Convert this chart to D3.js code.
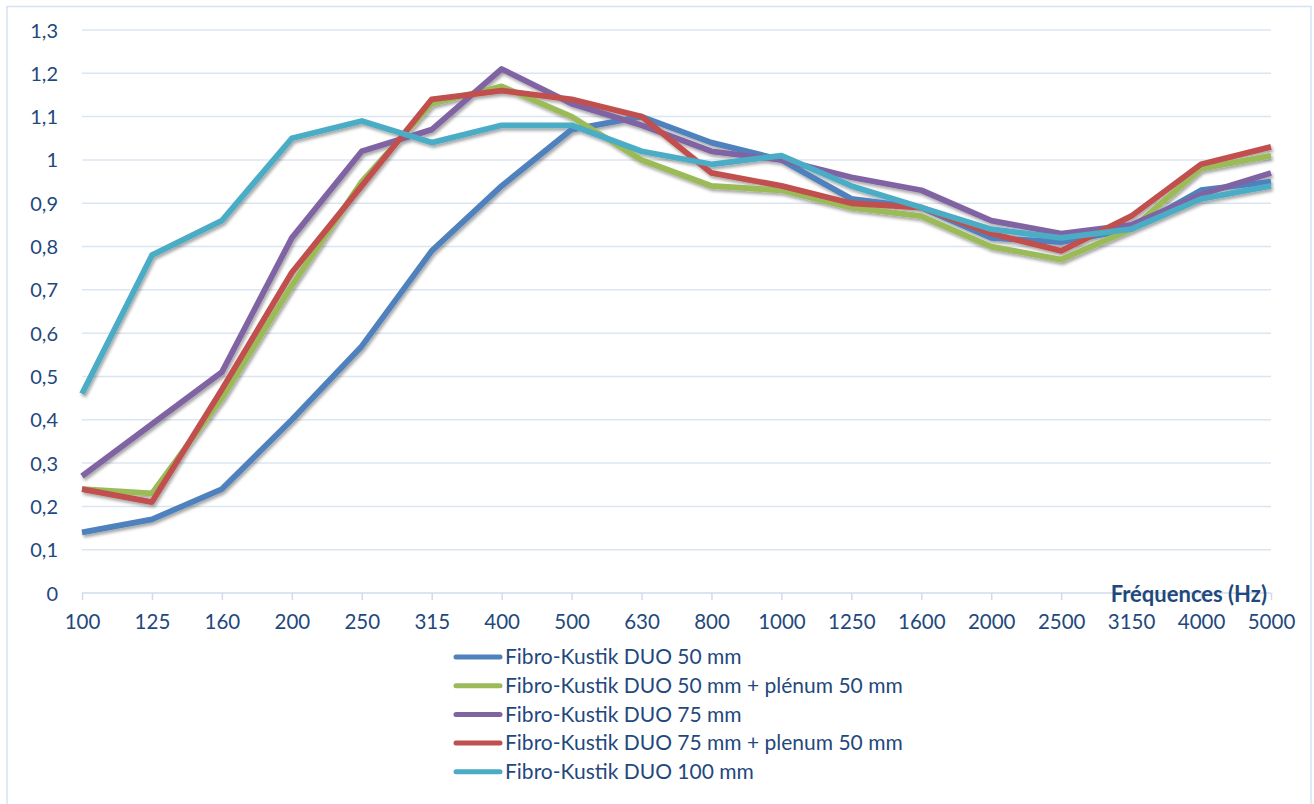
<!DOCTYPE html>
<html><head><meta charset="utf-8">
<script src="https://cdn.jsdelivr.net/npm/d3@7"></script>
<style>
html,body{margin:0;padding:0;background:#fff;}
svg{display:block;}
text{font-family:Lato,"Open Sans",sans-serif;}
</style></head>
<body><svg id="c" width="1314" height="804"></svg>
<script>
const categories = ["100","125","160","200","250","315","400","500","630","800","1000","1250","1600","2000","2500","3150","4000","5000"];
const seriesNames = ["Fibro-Kustik DUO 50 mm","Fibro-Kustik DUO 50 mm + plénum 50 mm","Fibro-Kustik DUO 75 mm","Fibro-Kustik DUO 75 mm + plenum 50 mm","Fibro-Kustik DUO 100 mm"];
const seriesColors = ["#4f81bd","#9bbb59","#8064a2","#c0504d","#4bacc6"];
const duo50      = [0.14,0.17,0.24,0.40,0.57,0.79,0.94,1.07,1.10,1.04,1.00,0.91,0.89,0.82,0.81,0.84,0.93,0.95];
const duo50pl    = [0.24,0.23,0.45,0.71,0.95,1.13,1.17,1.10,1.00,0.94,0.93,0.89,0.87,0.80,0.77,0.84,0.98,1.01];
const duo75      = [0.27,0.39,0.51,0.82,1.02,1.07,1.21,1.13,1.08,1.02,1.00,0.96,0.93,0.86,0.83,0.85,0.92,0.97];
const duo75pl    = [0.24,0.21,0.47,0.74,0.94,1.14,1.16,1.14,1.10,0.97,0.94,0.90,0.89,0.83,0.79,0.87,0.99,1.03];
const duo100     = [0.46,0.78,0.86,1.05,1.09,1.04,1.08,1.08,1.02,0.99,1.01,0.94,0.89,0.84,0.82,0.84,0.91,0.94];
const seriesValues = [duo50, duo50pl, duo75, duo75pl, duo100];
const yTicks = [0,0.1,0.2,0.3,0.4,0.5,0.6,0.7,0.8,0.9,1,1.1,1.2,1.3];
const xAxisTitle = "Fréquences (Hz)";

const svg = d3.select("#c");
const textColor = "#1f497d";
const gridColor = "#dce6f2";

// outer frame
svg.append("rect").attr("x",7).attr("y",6.5).attr("width",1304).attr("height",820)
  .attr("fill","none").attr("stroke","#d6e2f2").attr("stroke-width",1.5);

const x = d3.scalePoint().domain(categories).range([82,1271]);
const y = d3.scaleLinear().domain([0,1.3]).range([593,30]);

// shadow filter
const defs = svg.append("defs");
const f = defs.append("filter").attr("id","sh").attr("x","-5%").attr("y","-5%").attr("width","110%").attr("height","120%");
f.append("feDropShadow").attr("dx",1.5).attr("dy",2.5).attr("stdDeviation",1.6).attr("flood-color","#000").attr("flood-opacity",0.35);

// gridlines
svg.append("g").selectAll("line").data(yTicks.filter(d=>d>0)).join("line")
  .attr("x1",82).attr("x2",1271).attr("y1",d=>y(d)).attr("y2",d=>y(d))
  .attr("stroke",gridColor).attr("stroke-width",1.5);

// y axis labels
const yAxis = d3.axisLeft(y).tickValues(yTicks).tickSize(0).tickPadding(0)
  .tickFormat(d=>d3.format(".1~f")(d).replace(".",","));
const yg = svg.append("g").attr("transform","translate(58,0)").call(yAxis);
yg.select(".domain").remove();
yg.selectAll("text").attr("fill",textColor).style("font-size","20px").attr("dy","0.35em");

// x axis
const xAxis = d3.axisBottom(x).tickSize(7).tickPadding(19);
const xg = svg.append("g").attr("transform","translate(0,593)").call(xAxis);
xg.select(".domain").attr("stroke","#cfdbec").attr("stroke-width",1.5).attr("d","M82,0H1271");
xg.selectAll(".tick line").attr("stroke","#cfdbec").attr("stroke-width",1.5);
xg.selectAll("text").attr("fill",textColor).style("font-size","20.5px").attr("dy","0.5em");

// axis title
svg.append("text").attr("x",1267).attr("y",602).attr("text-anchor","end")
  .attr("fill",textColor).style("font-size","22px").style("font-weight","bold").text(xAxisTitle);

// lines
const line = d3.line().x((d,i)=>x(categories[i])).y(d=>y(d));
const lg = svg.append("g").attr("filter","url(#sh)");
seriesValues.forEach((vals,k)=>{
  lg.append("path").datum(vals).attr("d",line).attr("fill","none")
    .attr("stroke",seriesColors[k]).attr("stroke-width",5.8).attr("stroke-linejoin","round");
});

// legend
const leg = svg.append("g");
seriesNames.forEach((name,k)=>{
  const yy = 657 + k*28.7;
  leg.append("line").attr("x1",456).attr("x2",500).attr("y1",yy).attr("y2",yy)
    .attr("stroke",seriesColors[k]).attr("stroke-width",5).attr("stroke-linecap","round");
  leg.append("text").attr("x",505).attr("y",yy).attr("dy","0.35em")
    .attr("fill",textColor).style("font-size","21px").text(name);
});
</script></body></html>
